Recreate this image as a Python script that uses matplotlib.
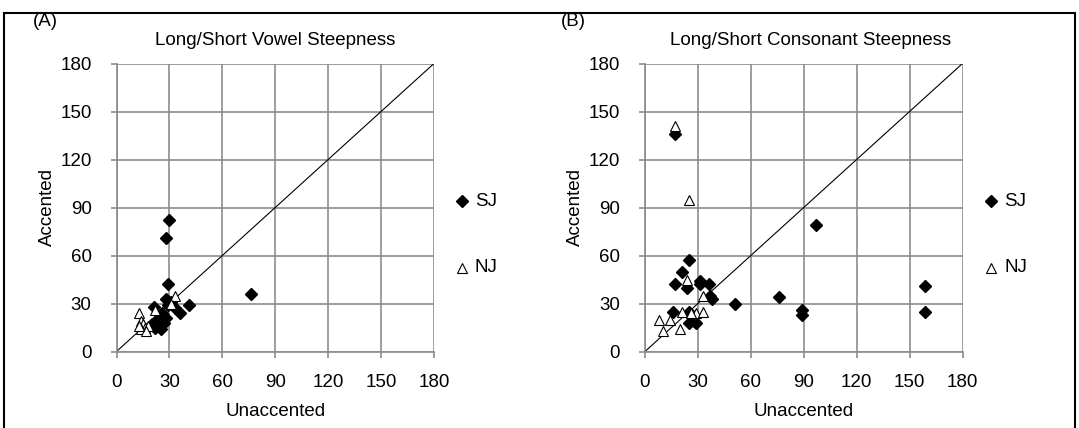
import matplotlib
matplotlib.use("Agg")
import matplotlib.pyplot as plt
from matplotlib.patches import Rectangle

plt.rcParams['font.family'] = ['Liberation Sans', 'DejaVu Sans']

# Panel A: long/short vowel steepness (unaccented vs accented)
vowel_sj_x = [30, 28, 29, 76, 41, 36, 28, 29, 31, 21, 26, 25, 22, 24, 27, 28, 26, 20, 33, 23, 25]
vowel_sj_y = [82, 71, 42, 36, 29, 24, 33, 29, 31, 28, 24, 19, 15, 16, 18, 21, 17, 17, 27, 20, 14]
vowel_nj_x = [13, 33, 22, 14, 15, 16, 14, 18, 17, 13, 31]
vowel_nj_y = [24, 35, 26, 19, 17, 15, 14, 16, 13, 16, 30]

# Panel B: long/short consonant steepness
cons_sj_x = [17, 25, 21, 17, 24, 31, 31, 36, 38, 37, 51, 16, 25, 25, 29, 28, 76, 89, 89, 97, 159, 159]
cons_sj_y = [136, 57, 50, 42, 40, 44, 42, 42, 33, 35, 30, 25, 25, 18, 18, 19, 34, 26, 23, 79, 41, 25]
cons_nj_x = [17, 25, 24, 8, 14, 10, 21, 20, 29, 33, 33, 26]
cons_nj_y = [141, 95, 45, 20, 20, 13, 25, 14, 24, 25, 35, 24]

ticks = [0, 30, 60, 90, 120, 150, 180]
panel_labels = ["(A)", "(B)"]
titles = ["Long/Short Vowel Steepness", "Long/Short Consonant Steepness"]
series_names = ["SJ", "NJ"]

W, H = 1079, 428
fig = plt.figure(figsize=(W / 100, H / 100), dpi=100)

grid_color = "#8c8c8c"
fs = 13.5

AX_BOTTOM, AX_TOP, AX_W = 351.5, 63.5, 317.5
panels = [
    (116.5, (vowel_sj_x, vowel_sj_y), (vowel_nj_x, vowel_nj_y)),
    (645.0, (cons_sj_x, cons_sj_y), (cons_nj_x, cons_nj_y)),
]
title_x = [155, 670]
label_x = [33, 561]
legend_x = [462, 991]
ylabel_x = [47, 575]

for i, (left_px, sj, nj) in enumerate(panels):
    ax_h = AX_BOTTOM - AX_TOP
    ax = fig.add_axes([left_px / W, (H - AX_BOTTOM) / H, AX_W / W, ax_h / H])
    ax.set_xlim(0, 180)
    ax.set_ylim(0, 180)
    ax.set_xticks(ticks)
    ax.set_yticks(ticks)
    ax.grid(True, color=grid_color, linewidth=1.2)
    ax.set_axisbelow(True)
    for side in ["top", "right"]:
        ax.spines[side].set_visible(False)
    for side in ["left", "bottom"]:
        ax.spines[side].set_color(grid_color)
        ax.spines[side].set_linewidth(1.2)
    ax.tick_params(direction="out", length=4, width=1.2, color=grid_color,
                   labelsize=fs)
    ax.tick_params(axis="x", pad=12.5)
    ax.tick_params(axis="y", pad=14)
    ax.plot([0, 180], [0, 180], color="black", linewidth=0.8, zorder=2)
    ax.plot(sj[0], sj[1], linestyle="none", marker="D", markersize=5.8,
            color="black", zorder=3, clip_on=False)
    ax.plot(nj[0], nj[1], linestyle="none", marker="^", markersize=7,
            markerfacecolor="white", markeredgecolor="black",
            markeredgewidth=0.8, zorder=4, clip_on=False)
    ax.set_xlabel("Unaccented", fontsize=fs)
    ax.set_ylabel("Accented", fontsize=fs)
    ax.xaxis.set_label_coords(0.5, (AX_BOTTOM - 412) / ax_h)
    ax.xaxis.label.set_verticalalignment("center")
    ax.yaxis.set_label_coords((ylabel_x[i] - left_px) / AX_W, 0.5)
    ax.yaxis.label.set_verticalalignment("center")

    fig.text(title_x[i] / W, 1 - 45 / H, titles[i], ha="left", va="baseline", fontsize=fs)
    fig.text(label_x[i] / W, 1 - 26 / H, panel_labels[i], ha="left", va="baseline", fontsize=fs)

    # legend entries drawn beside each plot
    fig.lines.append(plt.Line2D([legend_x[i] / W], [1 - 201 / H], transform=fig.transFigure,
                                linestyle="none", marker="D", markersize=5.8, color="black"))
    fig.lines.append(plt.Line2D([legend_x[i] / W], [1 - 268 / H], transform=fig.transFigure,
                                linestyle="none", marker="^", markersize=7,
                                markerfacecolor="white", markeredgecolor="black",
                                markeredgewidth=0.8))
    fig.text((legend_x[i] + 13) / W, 1 - 201 / H, series_names[0], ha="left", va="center", fontsize=fs)
    fig.text((legend_x[i] + 13) / W, 1 - 268 / H, series_names[1], ha="left", va="center", fontsize=fs)

# outer frame around both panels
fig.patches.append(Rectangle((4 / W, -0.1), (1075 - 4) / W, 1.1 - 13 / H,
                             transform=fig.transFigure, fill=False,
                             edgecolor="black", linewidth=1.5))

fig.savefig("out.png", dpi=100)
